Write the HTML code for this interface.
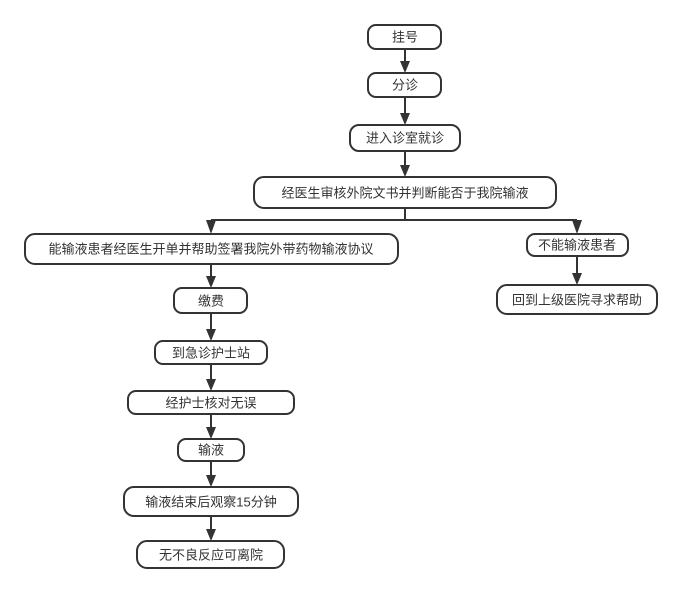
<!DOCTYPE html>
<html><head><meta charset="utf-8"><style>
body{margin:0;background:#fff;}
svg text{font-family:"Liberation Sans","Noto Sans CJK SC",sans-serif;font-size:13px;fill:#333;text-anchor:middle;dominant-baseline:central;}
rect{fill:#fff;stroke:#333;stroke-width:2;}
line{stroke:#333;stroke-width:2;}
polygon{fill:#333;}
</style></head><body>
<svg width="680" height="592" viewBox="0 0 680 592" xmlns="http://www.w3.org/2000/svg">
<defs><marker id="a" markerWidth="10" markerHeight="12" refX="5" refY="12" orient="auto" markerUnits="userSpaceOnUse"><polygon points="0,0 10,0 5,12" transform="rotate(0)"/></marker></defs>
<!-- connectors -->
<g>
<line x1="405" y1="49" x2="405" y2="61"/><polygon points="400,61 410,61 405,73"/>
<line x1="405" y1="97" x2="405" y2="113"/><polygon points="400,113 410,113 405,125"/>
<line x1="405" y1="151" x2="405" y2="165"/><polygon points="400,165 410,165 405,177"/>
<line x1="405" y1="208" x2="405" y2="220"/>
<line x1="211" y1="220" x2="577" y2="220"/>
<line x1="211" y1="220" x2="211" y2="222"/><polygon points="206,220 216,220 211,234"/>
<polygon points="572,220 582,220 577,234"/>
<line x1="577" y1="256" x2="577" y2="273"/><polygon points="572,273 582,273 577,285"/>
<line x1="211" y1="264" x2="211" y2="276"/><polygon points="206,276 216,276 211,288"/>
<line x1="211" y1="313" x2="211" y2="329"/><polygon points="206,329 216,329 211,341"/>
<line x1="211" y1="364" x2="211" y2="379"/><polygon points="206,379 216,379 211,391"/>
<line x1="211" y1="414" x2="211" y2="427"/><polygon points="206,427 216,427 211,439"/>
<line x1="211" y1="461" x2="211" y2="475"/><polygon points="206,475 216,475 211,487"/>
<line x1="211" y1="516" x2="211" y2="529"/><polygon points="206,529 216,529 211,541"/>
</g>
<rect x="368" y="25" width="73" height="24" rx="8"/><text x="405" y="37">挂号</text>
<rect x="368" y="73" width="73" height="24" rx="8"/><text x="405" y="85">分诊</text>
<rect x="350" y="125" width="110" height="26" rx="9"/><text x="405" y="138">进入诊室就诊</text>
<rect x="254" y="177" width="302" height="31" rx="10"/><text x="405" y="193">经医生审核外院文书并判断能否于我院输液</text>
<rect x="25" y="234" width="373" height="30" rx="10"/><text x="211" y="249">能输液患者经医生开单并帮助签署我院外带药物输液协议</text>
<rect x="527" y="234" width="101" height="22" rx="8"/><text x="577" y="245">不能输液患者</text>
<rect x="497" y="285" width="160" height="29" rx="10"/><text x="577" y="300">回到上级医院寻求帮助</text>
<rect x="174" y="288" width="73" height="25" rx="8"/><text x="211" y="301">缴费</text>
<rect x="155" y="341" width="112" height="23" rx="8"/><text x="211" y="353">到急诊护士站</text>
<rect x="128" y="391" width="166" height="23" rx="8"/><text x="211" y="403">经护士核对无误</text>
<rect x="178" y="439" width="66" height="22" rx="8"/><text x="211" y="450">输液</text>
<rect x="124" y="487" width="174" height="29" rx="10"/><text x="211" y="502">输液结束后观察15分钟</text>
<rect x="137" y="541" width="147" height="27" rx="10"/><text x="211" y="555">无不良反应可离院</text>
</svg>
</body></html>
